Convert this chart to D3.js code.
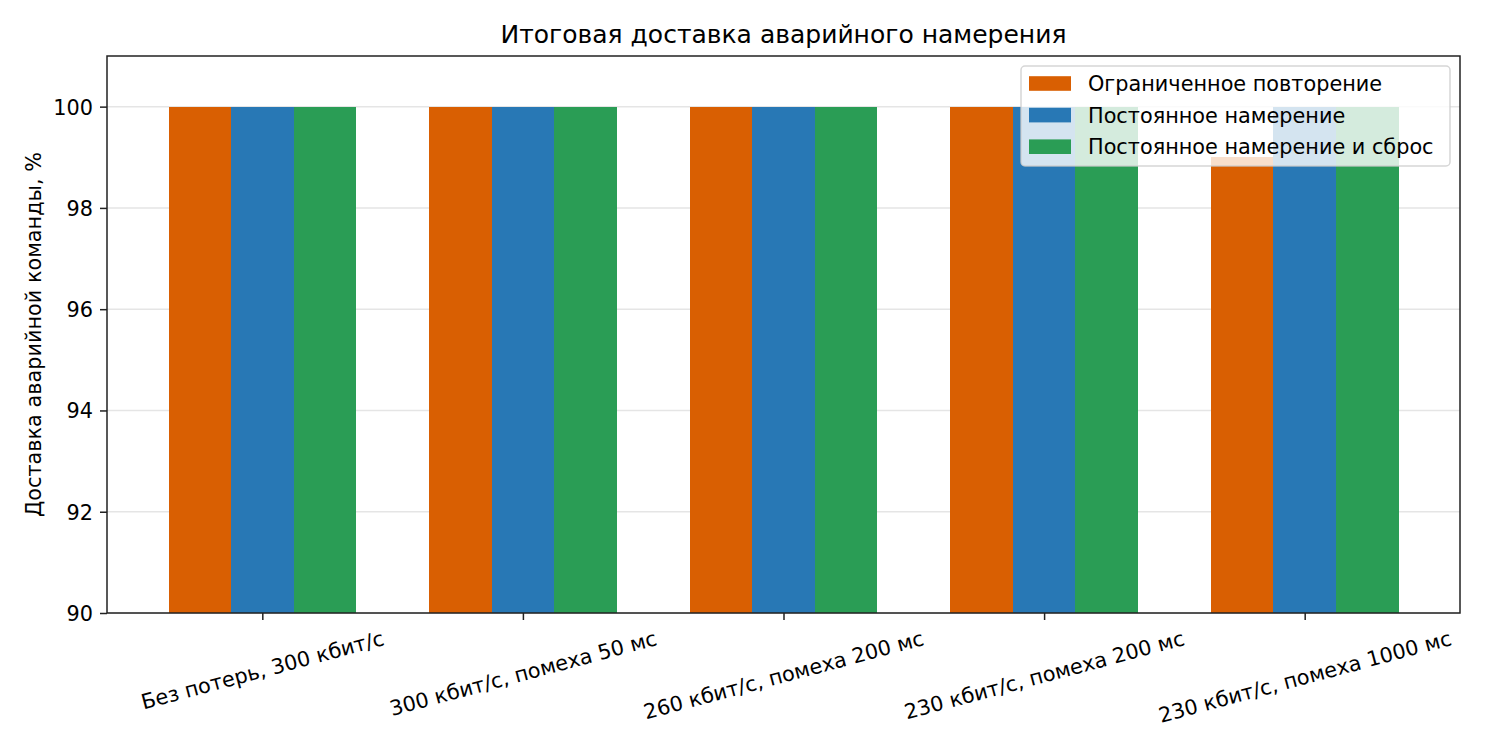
<!DOCTYPE html>
<html>
<head>
<meta charset="utf-8">
<script src="https://cdn.jsdelivr.net/npm/d3@7"></script>
<style>
  body { margin: 0; background: #fff; }
  text { font-family: "DejaVu Sans", sans-serif; fill: #000; }
</style>
</head>
<body>
<div id="chart"></div>
<script>
// Данные
const categories = [
  "Без потерь, 300 кбит/с",
  "300 кбит/с, помеха 50 мс",
  "260 кбит/с, помеха 200 мс",
  "230 кбит/с, помеха 200 мс",
  "230 кбит/с, помеха 1000 мс"
];
const seriesNames = ["Ограниченное повторение", "Постоянное намерение", "Постоянное намерение и сброс"];
const limitedRetry = [100, 100, 100, 100, 99];
const persistentIntent = [100, 100, 100, 100, 100];
const persistentReset = [100, 100, 100, 100, 100];
const yTicks = [90, 92, 94, 96, 98, 100];
const colors = ["#D95F02", "#2878B5", "#2A9D55"];

const seriesValues = [limitedRetry, persistentIntent, persistentReset];

const W = 1500, H = 750;
const m = { left: 107, top: 56, right: 40, bottom: 137 };
const iw = W - m.left - m.right, ih = H - m.top - m.bottom;
const fs = 20.8;

const svg = d3.select("#chart").append("svg")
  .attr("width", W).attr("height", H);

const g = svg.append("g").attr("transform", `translate(${m.left},${m.top})`);

// Шкалы
const barW = 0.24;
const x = d3.scaleLinear().domain([-0.596, categories.length - 1 + 0.596]).range([0, iw]);
const y = d3.scaleLinear().domain([90, 101]).range([ih, 0]);

// Сетка
g.append("g")
  .selectAll("line")
  .data(yTicks)
  .enter()
  .append("line")
  .attr("x1", 0).attr("x2", iw)
  .attr("y1", d => y(d)).attr("y2", d => y(d))
  .style("stroke", "#e5e5e5")
  .style("stroke-width", 1.5);

// Столбцы
seriesValues.forEach((vals, s) => {
  const off = (s - 1) * barW;
  g.append("g")
    .selectAll("rect")
    .data(vals)
    .enter()
    .append("rect")
    .attr("x", (d, i) => x(i + off - barW / 2))
    .attr("width", (d, i) => x(i + off + barW / 2) - x(i + off - barW / 2))
    .attr("y", d => y(d))
    .attr("height", d => ih - y(d))
    .attr("fill", colors[s])
    .attr("shape-rendering", "crispEdges");
});

// Оси
const yAxis = g.append("g")
  .call(d3.axisLeft(y).tickValues(yTicks).tickSize(7).tickSizeOuter(0).tickPadding(7));
const xAxis = g.append("g")
  .attr("transform", `translate(0,${ih})`)
  .call(d3.axisBottom(x).tickValues(d3.range(categories.length)).tickSize(7).tickSizeOuter(0).tickPadding(7)
    .tickFormat(i => categories[i]));

[yAxis, xAxis].forEach(a => {
  a.select(".domain").remove();
  a.selectAll(".tick line").style("stroke", "#222").style("stroke-width", 1.5);
  a.selectAll(".tick text").style("font-size", fs + "px").style("font-family", "DejaVu Sans").attr("fill", "#000");
});
yAxis.selectAll(".tick text").attr("dy", "0.36em");

// Подписи по X, повёрнутые на 15°
const ang = 15 * Math.PI / 180;
xAxis.selectAll(".tick text")
  .attr("text-anchor", "middle")
  .attr("dy", "0.3em")
  .attr("y", 0)
  .each(function () {
    const w = this.getComputedTextLength();
    const h = fs * 1.16;
    const bh = w * Math.sin(ang) + h * Math.cos(ang);
    const cy = 14 + bh / 2;
    d3.select(this).attr("transform", `translate(0,${cy}) rotate(-15)`);
  });

// Рамка
g.append("rect")
  .attr("width", iw).attr("height", ih)
  .attr("fill", "none")
  .style("stroke", "#222").style("stroke-width", 1.5);

// Заголовок и подпись оси
svg.append("text")
  .attr("x", m.left + iw / 2).attr("y", 43)
  .attr("text-anchor", "middle")
  .style("font-size", "25px")
  .text("Итоговая доставка аварийного намерения");

svg.append("text")
  .attr("transform", `translate(41,${m.top + ih / 2}) rotate(-90)`)
  .attr("text-anchor", "middle")
  .style("font-size", fs + "px")
  .text("Доставка аварийной команды, %");

// Легенда
const lg = svg.append("g").attr("transform", "translate(1021,66)");
lg.append("rect")
  .attr("width", 429).attr("height", 100)
  .attr("rx", 4).attr("ry", 4)
  .attr("fill", "#fff").attr("fill-opacity", 0.8)
  .style("stroke", "#ccc").style("stroke-width", 1.5).style("stroke-opacity", 0.8);

const rows = lg.selectAll("g.row")
  .data(seriesNames)
  .enter()
  .append("g")
  .attr("class", "row")
  .attr("transform", (d, i) => `translate(8,${17.5 + i * 31.6})`);
rows.append("rect")
  .attr("y", -7.3).attr("width", 42).attr("height", 14.6)
  .attr("fill", (d, i) => colors[i]);
rows.append("text")
  .attr("x", 59).attr("dy", "0.36em")
  .style("font-size", fs + "px")
  .text(d => d);
</script>
</body>
</html>
